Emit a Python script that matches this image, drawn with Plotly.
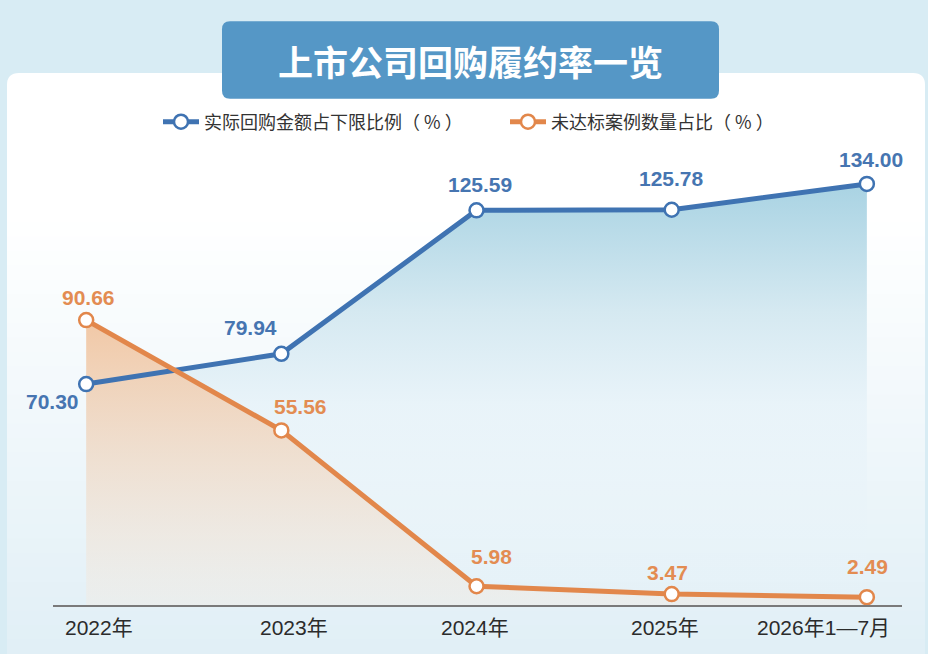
import plotly.graph_objects as go

# Data
years = ['2022年', '2023年', '2024年', '2025年', '2026年1—7月']
actual_ratio = [70.30, 79.94, 125.59, 125.78, 134.00]      # 实际回购金额占下限比例（%）
unmet_share = [90.66, 55.56, 5.98, 3.47, 2.49]            # 未达标案例数量占比（%）
name_actual = '实际回购金额占下限比例（ % ）'
name_unmet = '未达标案例数量占比（ % ）'
title_text = '上市公司回购履约率一览'

BLUE = '#3f73b2'
ORANGE = '#e2874b'
W, H = 928, 654
# plot area in pixels
L, R, T, B = 53, 902, 150, 605


def px(x):
    return (x - L) / (R - L)


def py(y):
    return (B - y) / (B - T)


fig = go.Figure()

# fills first (blue under orange)
fig.add_trace(go.Scatter(
    x=years, y=actual_ratio, mode='lines', line=dict(width=0),
    fill='tozeroy',
    fillgradient=dict(type='vertical', start=0, stop=134,
                      colorscale=[[0, 'rgba(232,243,249,0)'], [0.48, 'rgba(232,243,249,0.95)'],
                                  [0.7, '#d5e9f1'], [1, '#a9d3e3']]),
    showlegend=False, hoverinfo='skip'))
fig.add_trace(go.Scatter(
    x=years, y=unmet_share, mode='lines', line=dict(width=0),
    fill='tozeroy',
    fillgradient=dict(type='vertical', start=0, stop=90.66,
                      colorscale=[[0, 'rgba(240,236,230,0.5)'], [1, '#f1c8a6']]),
    showlegend=False, hoverinfo='skip'))

# lines
fig.add_trace(go.Scatter(
    x=years, y=actual_ratio, mode='lines+markers', name=name_actual,
    line=dict(color=BLUE, width=5),
    marker=dict(size=14, color='white', line=dict(color=BLUE, width=2.5))))
fig.add_trace(go.Scatter(
    x=years, y=unmet_share, mode='lines+markers', name=name_unmet,
    line=dict(color=ORANGE, width=5),
    marker=dict(size=14, color='white', line=dict(color=ORANGE, width=2.5))))

# value labels
blue_off = [(-34, -17), (-31, 26), (3, 26), (0, 31), (4, 24)]
orange_off = [(2, 23), (19, 24), (15, 30), (-4, 22), (1, 31)]
label_font = dict(family='Liberation Sans, Arial, sans-serif', size=21)
for i, yr in enumerate(years):
    fig.add_annotation(x=yr, y=actual_ratio[i], text=f'<b>{actual_ratio[i]:.2f}</b>',
                       showarrow=False, xshift=blue_off[i][0], yshift=blue_off[i][1],
                       font=dict(color='#4675b1', **label_font))
    fig.add_annotation(x=yr, y=unmet_share[i], text=f'<b>{unmet_share[i]:.2f}</b>',
                       showarrow=False, xshift=orange_off[i][0], yshift=orange_off[i][1],
                       font=dict(color='#e38c52', **label_font))

# category labels under the axis line
tick_off = [13, 13, -2, -7, -43]
for i, yr in enumerate(years):
    fig.add_annotation(x=yr, y=0, yref='y', text=yr, showarrow=False,
                       xshift=tick_off[i], yshift=-22, xanchor='center', yanchor='middle',
                       font=dict(family='Liberation Sans, Noto Sans CJK SC', size=21,
                                 color='#2b2b2b'))

# background panel
shapes = []
x0, x1 = px(7), px(925)
yt, yb = py(70), py(660)
rx, ry = 12 / (R - L), 12 / (B - T)
shapes.append(dict(
    type='path', xref='paper', yref='paper', layer='below',
    path=(f'M {x0},{yb} L {x0},{yt - ry} Q {x0},{yt} {x0 + rx},{yt} '
          f'L {x1 - rx},{yt} Q {x1},{yt} {x1},{yt - ry} L {x1},{yb} Z'),
    fillcolor='white', line=dict(width=0)))
# soft fade of the panel toward the bottom
n = 30
top_px, bot_px = 220, 654
c0, c1 = (255, 255, 255), (224, 239, 246)
for k in range(n):
    t = (k + 0.5) / n
    c = tuple(round(c0[j] + (c1[j] - c0[j]) * t) for j in range(3))
    ya = top_px + (bot_px - top_px) * k / n
    yb2 = top_px + (bot_px - top_px) * (k + 1) / n + 1
    shapes.append(dict(type='rect', xref='paper', yref='paper', layer='below',
                       x0=x0, x1=x1, y0=py(ya), y1=py(yb2),
                       fillcolor=f'rgb{c}', line=dict(width=0)))
# title box
bx0, bx1, by0, by1 = px(222), px(719), py(18), py(96)
brx, bry = 8 / (R - L), 8 / (B - T)
shapes.append(dict(
    type='path', xref='paper', yref='paper', layer='below',
    path=(f'M {bx0 + brx},{by0} L {bx1 - brx},{by0} Q {bx1},{by0} {bx1},{by0 - bry} '
          f'L {bx1},{by1 + bry} Q {bx1},{by1} {bx1 - brx},{by1} '
          f'L {bx0 + brx},{by1} Q {bx0},{by1} {bx0},{by1 + bry} '
          f'L {bx0},{by0 - bry} Q {bx0},{by0} {bx0 + brx},{by0} Z'),
    fillcolor='#5597c6', line=dict(width=0)))

fig.add_annotation(x=px(470), y=py(57), xref='paper', yref='paper', showarrow=False,
                   xanchor='center', yanchor='middle',
                   text=f'<b>{title_text}</b>',
                   font=dict(family='Noto Sans CJK SC', size=35, color='white'))

fig.update_layout(
    width=W, height=H,
    margin=dict(l=L, r=W - R, t=T, b=H - B),
    paper_bgcolor='#d8ecf4',
    plot_bgcolor='rgba(0,0,0,0)',
    shapes=shapes,
    showlegend=True,
    legend=dict(orientation='h', xref='container', yref='container',
                x=158 / W, xanchor='left', y=1 - 122 / H, yanchor='middle',
                font=dict(family='Noto Sans CJK SC', size=18, color='#333333'),
                bgcolor='rgba(0,0,0,0)', itemwidth=36,
                entrywidth=296, entrywidthmode='pixels'),
    xaxis=dict(range=[-0.17, 4.18], showgrid=False, zeroline=False,
               showline=True, linecolor='#7a7a7a', linewidth=2,
               showticklabels=False, ticks=''),
    yaxis=dict(range=[0, 144], visible=False, showgrid=False, zeroline=False),
    hovermode=False,
)

fig.write_html('out.html', config={'displayModeBar': False},
               post_script="document.body.style.margin='0';"
                           "document.body.style.background='#d8ecf4';")
